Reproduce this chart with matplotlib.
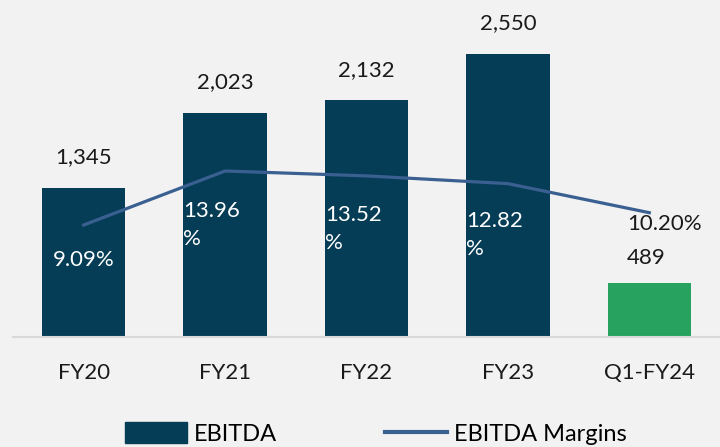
import matplotlib.pyplot as plt

# dados
periodos = ['FY20', 'FY21', 'FY22', 'FY23', 'Q1-FY24']
ebitda = [1345, 2023, 2132, 2550, 489]
margens = [9.09, 13.96, 13.52, 12.82, 10.20]
rotulos_ebitda = ['1,345', '2,023', '2,132', '2,550', '489']
rotulos_margem = ['9.09%', '13.96\n%', '13.52\n%', '12.82\n%', '10.20%']

fundo = '#f2f2f2'
azul_escuro = '#063d56'
verde = '#27a35f'
azul_linha = '#3a5f91'

plt.rcParams['font.family'] = ['Lato', 'DejaVu Sans']

fig = plt.figure(figsize=(7.2, 4.47), dpi=100, facecolor=fundo)
ax = fig.add_axes([13 / 720, 110 / 447, 707 / 720, 337 / 447])
ax.set_facecolor(fundo)

x = list(range(len(periodos)))
cores = [azul_escuro] * 4 + [verde]
barras = ax.bar(x, ebitda, width=0.59, color=cores, zorder=2)
ax.set_xlim(-0.5, 4.5)
ax.set_ylim(0, 3037)

for s in ['top', 'right', 'left']:
    ax.spines[s].set_visible(False)
ax.spines['bottom'].set_color('#d9d9d9')
ax.spines['bottom'].set_linewidth(1.5)
ax.set_yticks([])
ax.set_xticks(x)
ax.set_xticklabels(periodos, fontsize=16, color='#1a1a1a')
ax.tick_params(axis='x', length=0, pad=19)

# rotulos das barras
for i, (v, r) in enumerate(zip(ebitda, rotulos_ebitda)):
    if i < 4:
        ax.annotate(r, (i, v), xytext=(0, 22), textcoords='offset points',
                    ha='center', va='center', fontsize=16, color='#1a1a1a')
    else:
        ax.annotate(r, (i, v), xytext=(-16, 18), textcoords='offset points',
                    ha='left', va='center', fontsize=16, color='#1a1a1a')

# linha de margem no eixo secundario
ax2 = ax.twinx()
ax2.set_ylim(-1.01, 29.38)
ax2.axis('off')
ax2.plot(x, margens, color=azul_linha, linewidth=2.3, zorder=3)

desloc = [(0, -25), (-30, -39), (-30, -38), (-30, -37), (-16, -8)]
for i, (m, r) in enumerate(zip(margens, rotulos_margem)):
    dx, dy = desloc[i]
    cor = 'white' if i < 4 else '#1a1a1a'
    ha = 'center' if i == 0 else 'left'
    ax2.annotate(r, (i, m), xytext=(dx, dy), textcoords='offset points',
                 ha=ha, va='center', fontsize=16, color=cor, linespacing=1.5)

# legenda
h1 = plt.Rectangle((0, 0), 1, 1, color=azul_escuro)
h2 = plt.Line2D([0], [0], color=azul_linha, linewidth=3)
fig.legend([h1, h2], ['EBITDA', 'EBITDA Margins'], loc='center',
           bbox_to_anchor=(0.522, 0.03), ncol=2, frameon=False, fontsize=17,
           handlelength=2.6, handleheight=1.0, handletextpad=0.3,
           columnspacing=4.6)

plt.savefig('out.png', dpi=100, facecolor=fundo)
